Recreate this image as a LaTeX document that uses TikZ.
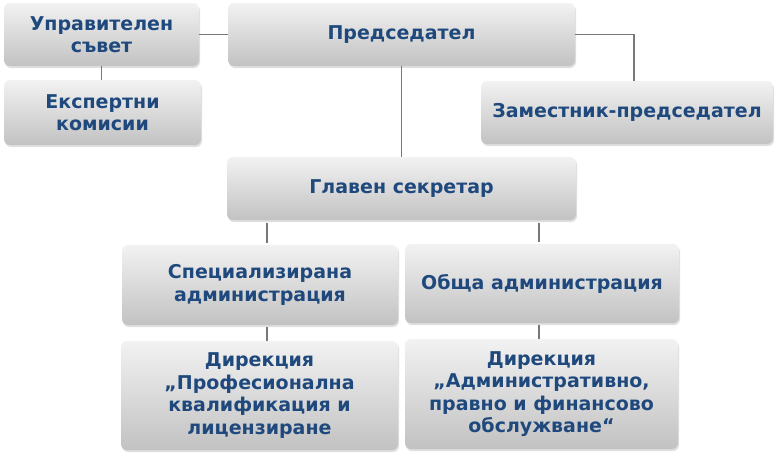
\documentclass[tikz,border=0pt]{standalone}
\usepackage{fontspec}
\setmainfont{DejaVu Sans}
\usetikzlibrary{shadows}

\definecolor{boxtop}{RGB}{242,242,242}
\definecolor{boxbot}{RGB}{194,194,194}
\definecolor{boxtext}{RGB}{31,73,125}
\definecolor{linkgray}{RGB}{120,120,120}

\tikzset{
    unit/.style = {rounded corners=6pt, top color=boxtop, bottom color=boxbot,
        drop shadow={opacity=0.25, shadow xshift=1pt, shadow yshift=-2pt},
        text=boxtext, font=\fontsize{19}{22.5}\selectfont\bfseries,
        align=center, inner sep=0pt},
    link/.style = {draw=linkgray, line width=1.3pt}
}

\begin{document}
\begin{tikzpicture}[x=1pt, y=-1pt]
    \useasboundingbox (0, 0) rectangle (777, 458);

    \node[unit, minimum width=195pt, minimum height=63pt] (upr) at (101.5, 34.5) {Управителен\\съвет};
    \node[unit, minimum width=197pt, minimum height=65pt] (eksp) at (102.5, 112.5) {Експертни\\комисии};
    \node[unit, minimum width=347pt, minimum height=63pt] (pred) at (401.5, 34.5) {Председател};
    \node[unit, minimum width=292pt, minimum height=63pt] (zam) at (627, 112.5) {Заместник-председател};
    \node[unit, minimum width=349pt, minimum height=63pt] (glav) at (401.5, 188.5) {Главен секретар};
    \node[unit, minimum width=276pt, minimum height=80pt] (spec) at (260, 285) {Специализирана\\администрация};
    \node[unit, minimum width=274pt, minimum height=79pt] (obsh) at (542, 283.5) {Обща администрация};
    \node[unit, minimum width=277pt, minimum height=109pt] (dirl) at (259.5, 395.5)
        {Дирекция\\„Професионална\\квалификация и\\лицензиране};
    \node[unit, minimum width=273pt, minimum height=110pt] (dirr) at (541.5, 394)
        {Дирекция\\„Административно,\\правно и финансово\\обслужване“};

    \draw[link] (upr.east) -- (pred.west);
    \draw[link] (upr.south) -- (upr.south |- eksp.north);
    \draw[link] (pred.east) -| (zam.north -| 634, 0);
    \draw[link] (pred.south) -- (glav.north);
    \draw[link, shorten <=3pt, shorten >=2pt] (glav.south -| 267, 0) -- (spec.north -| 267, 0);
    \draw[link, shorten <=3pt, shorten >=2pt] (glav.south -| 539, 0) -- (obsh.north -| 539, 0);
    \draw[link, shorten <=2pt] (spec.south -| 267, 0) -- (dirl.north -| 267, 0);
    \draw[link, shorten <=2pt] (obsh.south -| 539, 0) -- (dirr.north -| 539, 0);
\end{tikzpicture}
\end{document}
